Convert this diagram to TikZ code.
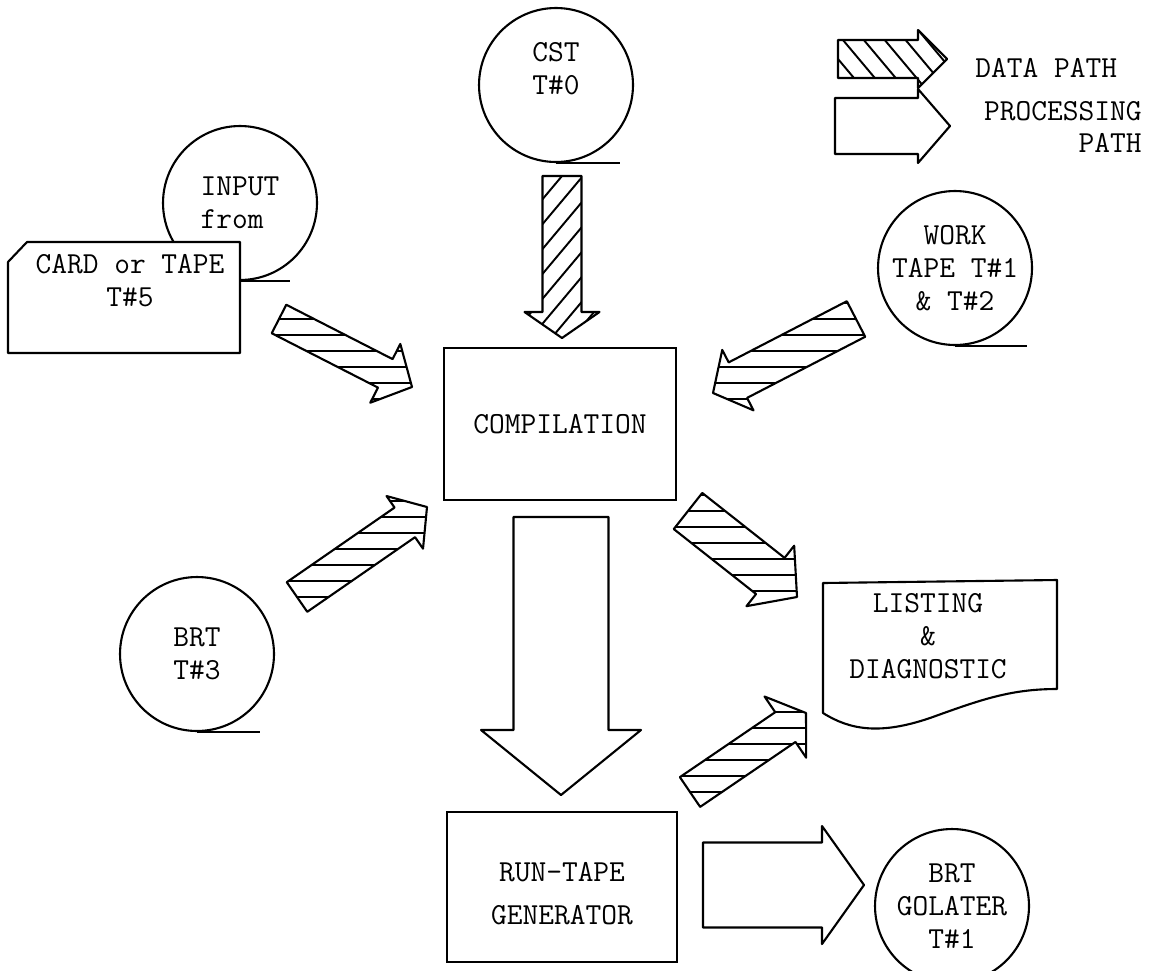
\documentclass[tikz,border=0pt]{standalone}
\usepackage{fontspec}
\usetikzlibrary{calc}

\newcommand\tapefont{\ttfamily\fontsize{17.4}{18.7}\selectfont}

\newcommand\fatshape[5]{%
  \coordinate (hb) at ($(#2)!#5*0.02cm!(#1)$);
  \coordinate (p1) at ($(#1)!#3*0.02cm!90:(#2)$);
  \coordinate (p2) at ($(hb)!#3*0.02cm!90:(#2)$);
  \coordinate (p3) at ($(hb)!#4*0.02cm!90:(#2)$);
  \coordinate (p4) at (#2);
  \coordinate (p5) at ($(hb)!#4*0.02cm!-90:(#2)$);
  \coordinate (p6) at ($(hb)!#3*0.02cm!-90:(#2)$);
  \coordinate (p7) at ($(#1)!#3*0.02cm!-90:(#2)$);
}
\newcommand\procpath[5]{\fatshape{#1}{#2}{#3}{#4}{#5}%
  \draw[outline, fill=white] (p1) -- (p2) -- (p3) -- (p4) -- (p5) -- (p6) -- (p7) -- cycle;}
\newcommand\datapath[6]{\fatshape{#1}{#2}{#3}{#4}{#5}%
  \begin{scope}
    \clip (p1) -- (p2) -- (p3) -- (p4) -- (p5) -- (p6) -- (p7) -- cycle;
    \foreach \k in {-14,...,14}
      \draw[hatch] (#1) ++(#6+90:\k*16) ++(#6:-260) -- ++(#6:520);
  \end{scope}
  \draw[outline] (p1) -- (p2) -- (p3) -- (p4) -- (p5) -- (p6) -- (p7) -- cycle;}

\begin{document}
\begin{tikzpicture}[x=0.02cm, y=0.02cm,
    tape/.style={draw, circle, line width=1.2pt, minimum size=3.08cm, inner sep=0pt, align=center, font=\tapefont},
    box/.style={draw, line width=1.2pt, align=center, font=\tapefont},
    txt/.style={align=center, font=\tapefont, inner sep=0pt},
    outline/.style={draw, line width=1.2pt, line join=round},
    hatch/.style={line width=1.1pt}]
    \useasboundingbox (0,0) rectangle (1151,-970);
    \clip (0,0) rectangle (1151,-970);

    \node[tape] (cst) at (556,-85) {CST\\T\#0\\\mbox{}};
    \draw[outline] (cst.south) -- ++(64,0);
    \node[tape, align=left] (input) at (240,-203) {INPUT\\from};
    \draw[outline] (input.south) -- ++(50,0);
    \draw[outline, fill=white] (8,-262) -- (27,-242) -- (240,-242) -- (240,-353) -- (8,-353) -- cycle;
    \node[txt] (card) at (130,-297) {CARD or TAPE\\T\#5\\\mbox{}};
    \node[tape] (work) at (955,-268) {WORK\\TAPE T\#1\\\& T\#2};
    \draw[outline] (work.south) -- ++(72,0);
    \node[tape] (brt) at (197,-654) {BRT\\T\#3};
    \draw[outline] (brt.south) -- ++(63,0);
    \node[tape] (golater) at (952,-906) {BRT\\GOLATER\\T\#1};

    \node[box, minimum width=4.64cm, minimum height=3.04cm] (comp) at (560,-424) {COMPILATION};
    \node[box, minimum width=4.6cm, minimum height=3cm] (gen) at (562,-887) {\mbox{}\\RUN-TAPE\\[6pt]GENERATOR};
    \draw[outline] (823,-583) -- (1057,-580) -- (1057,-689)
        .. controls (1010,-689) and (980,-700) .. (930,-718)
        .. controls (880,-735) and (850,-730) .. (823,-713) -- cycle;
    \node[txt] (listing) at (928,-636) {LISTING\\\&\\DIAGNOSTIC};

    \coordinate (cst-a) at (562,-176);   \coordinate (cst-b) at (562,-338);
    \coordinate (card-a) at (279,-319);  \coordinate (card-b) at (412,-387);
    \coordinate (work-a) at (856,-319);  \coordinate (work-b) at (713,-393);
    \coordinate (brt-a) at (297,-597);   \coordinate (brt-b) at (427,-507);
    \coordinate (list-a) at (688,-511);  \coordinate (list-b) at (797,-597);
    \coordinate (gen-a) at (690,-792);   \coordinate (gen-b) at (806,-713);
    \coordinate (run-a) at (561,-517);   \coordinate (run-b) at (561,-795);
    \coordinate (out-a) at (703,-885);   \coordinate (out-b) at (864,-885);
    \coordinate (key1-a) at (838,-59);   \coordinate (key1-b) at (947,-59);
    \coordinate (key2-a) at (835,-126);  \coordinate (key2-b) at (950,-126);

    \datapath{cst-a}{cst-b}{19.5}{37.5}{26}{50}
    \datapath{card-a}{card-b}{16}{33}{30}{0}
    \datapath{work-a}{work-b}{20}{34}{28}{0}
    \datapath{brt-a}{brt-b}{18}{32}{27}{0}
    \datapath{list-a}{list-b}{23}{38.5}{34}{0}
    \datapath{gen-a}{gen-b}{18}{37}{25}{0}
    \procpath{run-a}{run-b}{47.5}{80}{65}
    \procpath{out-a}{out-b}{42.5}{59}{42}

    \datapath{key1-a}{key1-b}{19}{29}{29}{-50}
    \procpath{key2-a}{key2-b}{28}{37}{32}
    \node[txt, anchor=west] (datalbl) at (975,-68) {DATA PATH};
    \node[txt, anchor=east, align=right] (proclbl) at (1142,-127) {PROCESSING\\PATH};
\end{tikzpicture}
\end{document}
